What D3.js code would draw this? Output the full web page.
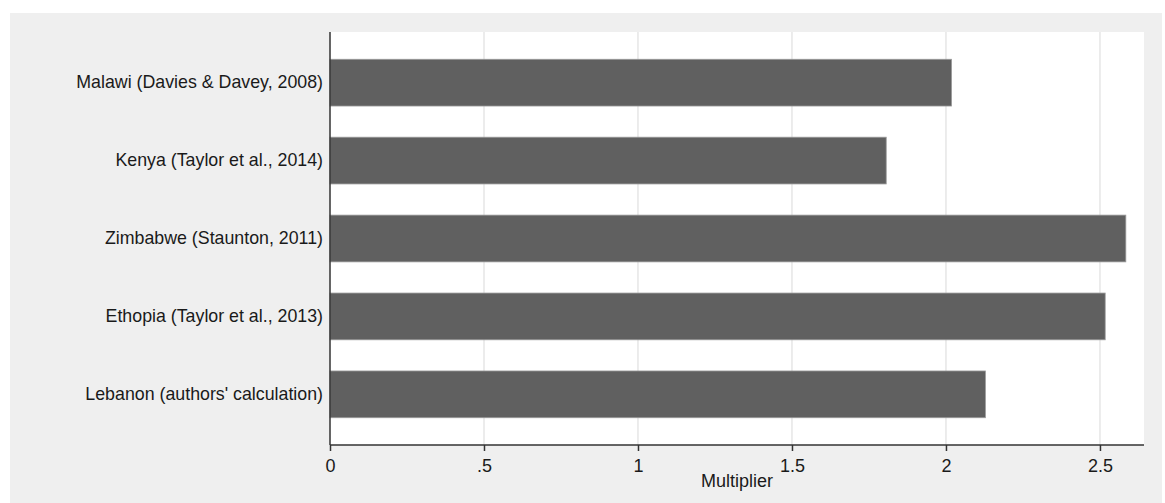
<!DOCTYPE html>
<html>
<head>
<meta charset="utf-8">
<script src="https://cdn.jsdelivr.net/npm/d3@7"></script>
<style>
  html, body { margin: 0; padding: 0; background: #ffffff; }
  svg { display: block; }
  text { font-family: Arial, "Liberation Sans", sans-serif; fill: #1a1a1a; }
</style>
</head>
<body>
<svg id="chart" width="1165" height="503"></svg>
<script>
const categories = [
  "Malawi (Davies & Davey, 2008)",
  "Kenya (Taylor et al., 2014)",
  "Zimbabwe (Staunton, 2011)",
  "Ethopia (Taylor et al., 2013)",
  "Lebanon (authors' calculation)"
];
const multipliers = [2.018, 1.806, 2.584, 2.517, 2.128];
const tickValues = [0, 0.5, 1, 1.5, 2, 2.5];
const tickLabels = ["0", ".5", "1", "1.5", "2", "2.5"];
const xTitle = "Multiplier";

const svg = d3.select("#chart");
const W = 1165, H = 503;
const plot = { left: 330, right: 1144, top: 32, bottom: 445 };

// outer gray panel
svg.append("rect").attr("x", 10).attr("y", 13).attr("width", 1152).attr("height", H - 13)
  .attr("fill", "#efefef");
// plot region
svg.append("rect").attr("x", plot.left).attr("y", plot.top)
  .attr("width", plot.right - plot.left).attr("height", plot.bottom - plot.top)
  .attr("fill", "#ffffff");

const x = d3.scaleLinear().domain([0, 2.643]).range([plot.left, plot.right]);
const y = d3.scaleBand().domain(categories).range([plot.top, plot.bottom])
  .paddingInner(0.4).paddingOuter(0.35);

// gridlines
svg.append("g").selectAll("line").data(tickValues.filter(d => d > 0)).join("line")
  .attr("x1", d => x(d)).attr("x2", d => x(d))
  .attr("y1", plot.top).attr("y2", plot.bottom)
  .attr("stroke", "#e6e6e6").attr("stroke-width", 1.5);

// bars
svg.append("g").selectAll("rect").data(categories).join("rect")
  .attr("x", x(0))
  .attr("y", d => y(d))
  .attr("width", (d, i) => x(multipliers[i]) - x(0))
  .attr("height", y.bandwidth())
  .attr("fill", "#606060")
  .attr("stroke", "#9a9a9a").attr("stroke-width", 0.8);

// x axis
const xAxis = d3.axisBottom(x).tickValues(tickValues)
  .tickFormat((d, i) => tickLabels[i]).tickSize(6).tickPadding(8);
const gx = svg.append("g").attr("transform", `translate(0,${plot.bottom})`).call(xAxis);
gx.select(".domain").attr("stroke", "#333").attr("stroke-width", 1.5)
  .attr("d", `M${plot.left},0H${plot.right}`);
gx.selectAll(".tick line").attr("stroke", "#333").attr("stroke-width", 1.5);
gx.selectAll(".tick text").attr("font-size", 18).attr("fill", "#1a1a1a")
  .attr("font-family", "Arial, 'Liberation Sans', sans-serif");

// y axis
const yAxis = d3.axisLeft(y).tickSize(0).tickPadding(7);
const gy = svg.append("g").attr("transform", `translate(${plot.left},0)`).call(yAxis);
gy.select(".domain").attr("stroke", "#333").attr("stroke-width", 1.5)
  .attr("d", `M0,${plot.top}V${plot.bottom}`);
gy.selectAll(".tick text").attr("font-size", 17.8).attr("fill", "#1a1a1a")
  .attr("font-family", "Arial, 'Liberation Sans', sans-serif");

// x title
svg.append("text").attr("x", (plot.left + plot.right) / 2).attr("y", 487)
  .attr("text-anchor", "middle").attr("font-size", 18).text(xTitle);
</script>
</body>
</html>
